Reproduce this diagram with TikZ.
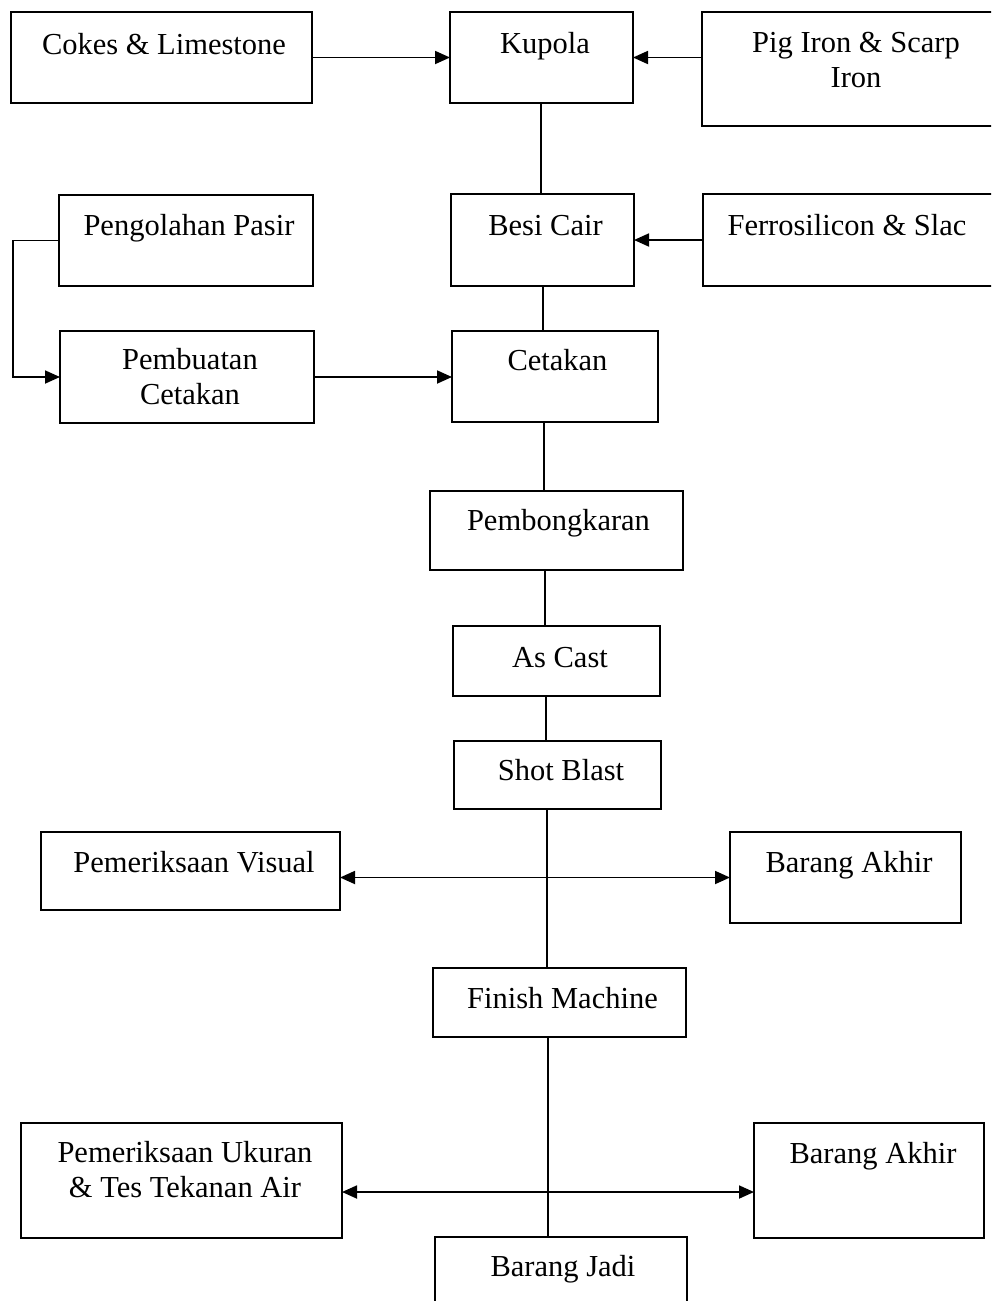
\documentclass[tikz,border=0pt]{standalone}
\usepackage{fontspec}
\setmainfont{Liberation Serif}
\usetikzlibrary{arrows.meta}
\newcommand\mkbox[5]{\node[boxst, minimum width={(#4)-(#2)}, minimum height={(#5)-(#3)}] (#1) at ({((#2)+(#4))/2},{((#3)+(#5))/2}) {};}
\newcommand\two[2]{\begin{tabular}[t]{@{}c@{}}#1\\#2\end{tabular}}
\begin{document}
\begin{tikzpicture}[x=1pt,y=-1pt,
  boxst/.style={draw, line width=2pt, inner sep=0pt, outer sep=0pt},
  txt/.style={inner sep=0pt, anchor=base, font=\fontsize{30.5}{35.5}\selectfont},
  ln/.style={line width=1.8pt},
  arr/.style={ln, -{Triangle[length=15pt,width=13pt]}},
  darr/.style={ln, {Triangle[length=15pt,width=13pt]}-{Triangle[length=15pt,width=13pt]}}]
\clip (0,0) rectangle (991,1301);
\fill[white] (0,0) rectangle (991,1301);
% boxes
\mkbox{cokes}{11}{12}{312}{103}
\mkbox{kupola}{450}{12}{633}{103}
\mkbox{pig}{702}{12}{1010}{126}
\mkbox{peng}{59}{195}{313}{286}
\mkbox{besi}{451}{194}{634}{286}
\mkbox{ferro}{703}{194}{1010}{286}
\mkbox{pemb}{60}{331}{314}{423}
\mkbox{cetakan}{452}{331}{658}{422}
\mkbox{bongkar}{430}{491}{683}{570}
\mkbox{ascast}{453}{626}{660}{696}
\mkbox{shot}{454}{741}{661}{809}
\mkbox{visual}{41}{832}{340}{910}
\mkbox{akhirA}{730}{832}{961}{923}
\mkbox{finish}{433}{968}{686}{1037}
\mkbox{ukuran}{21}{1123}{342}{1238}
\mkbox{akhirB}{754}{1123}{984}{1238}
\mkbox{jadi}{435}{1237}{687}{1320}
% texts
\node[txt] (cokes-t) at (164,54) {Cokes \& Limestone};
\node[txt] (kupola-t) at (545,53) {Kupola};
\node[txt] (pig-t) at (856,52) {\two{Pig Iron \& Scarp}{Iron}};
\node[txt] (peng-t) at (189,235) {Pengolahan Pasir};
\node[txt] (besi-t) at (545.5,235) {Besi Cair};
\node[txt] (ferro-t) at (847,235) {Ferrosilicon \& Slac};
\node[txt] (pemb-t) at (190,369) {\two{Pembuatan}{Cetakan}};
\node[txt] (cetakan-t) at (557.5,370) {Cetakan};
\node[txt] (bongkar-t) at (558.5,530) {Pembongkaran};
\node[txt] (ascast-t) at (560,667) {As Cast};
\node[txt] (shot-t) at (561,780) {Shot Blast};
\node[txt] (visual-t) at (194,872) {Pemeriksaan Visual};
\node[txt] (akhirA-t) at (849,872) {Barang Akhir};
\node[txt] (finish-t) at (562.5,1008) {Finish Machine};
\node[txt] (ukuran-t) at (185,1162) {\two{Pemeriksaan Ukuran}{\& Tes Tekanan Air}};
\node[txt] (akhirB-t) at (873,1163) {Barang Akhir};
\node[txt] (jadi-t) at (563,1276) {Barang Jadi};
% connectors
\draw[arr] (cokes.east) -- (kupola.west);
\draw[arr] (pig.west |- kupola.west) -- (kupola.west -| kupola.east);
\draw[arr] (ferro.west) -- (besi.east);
\draw[arr] (peng.west) -- ([xshift=-46pt]peng.west) |- (pemb.west);
\draw[arr] (pemb.east) -- (cetakan.west |- pemb.east);
\draw[ln] (kupola.south -| 541,0) -- (besi.north -| 541,0);
\draw[ln] (besi.south -| 543,0) -- (cetakan.north -| 543,0);
\draw[ln] (cetakan.south -| 544,0) -- (bongkar.north -| 544,0);
\draw[ln] (bongkar.south -| 545,0) -- (ascast.north -| 545,0);
\draw[ln] (ascast.south -| 546,0) -- (shot.north -| 546,0);
\draw[ln] (shot.south -| 547,0) -- (finish.north -| 547,0);
\draw[ln] (finish.south -| 548,0) -- (jadi.north -| 548,0);
\draw[darr] (visual.east |- akhirA.west) -- (akhirA.west);
\draw[darr] ([yshift=-11.5pt]ukuran.east) -- ([yshift=-11.5pt]akhirB.west);
\end{tikzpicture}
\end{document}
